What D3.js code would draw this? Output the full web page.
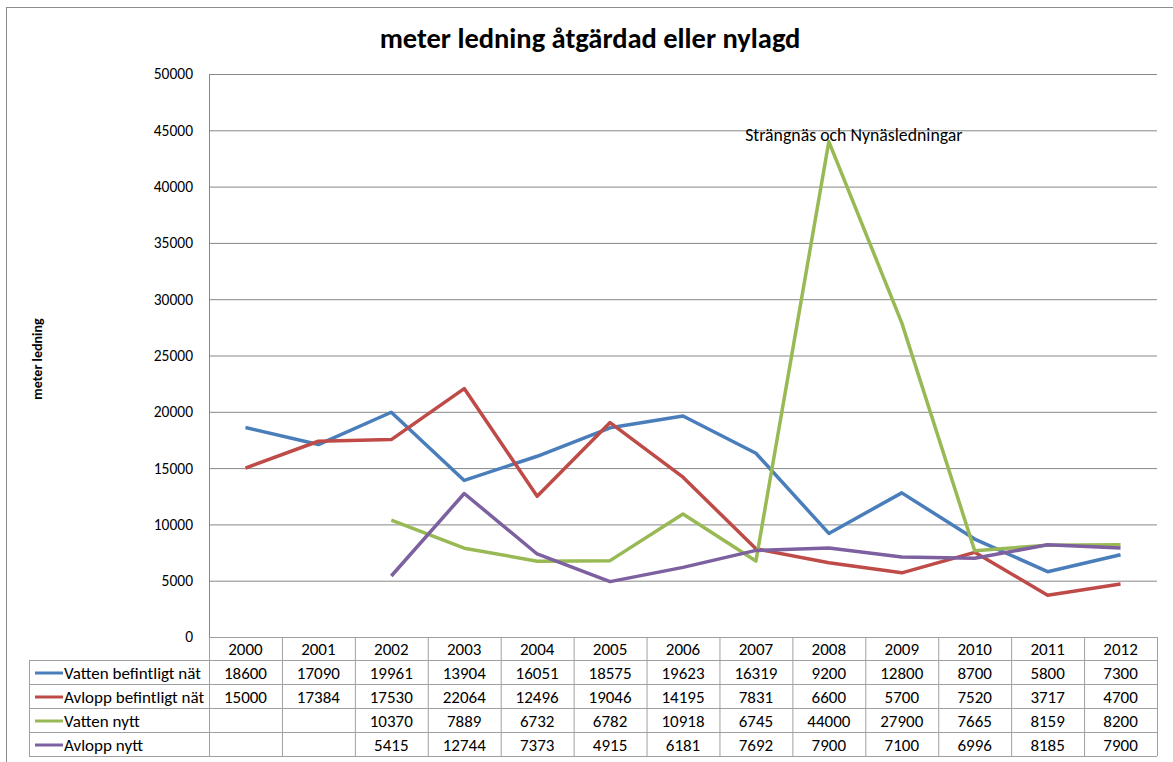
<!DOCTYPE html>
<html lang="sv">
<head>
  <meta charset="utf-8">
  <title>meter ledning</title>
  <script src="https://d3js.org/d3.v7.min.js"></script>
  <style>
    body { margin: 0; background: #fff; }
    text { font-family: Carlito, "Open Sans", sans-serif; fill: #000; }
  </style>
</head>
<body>
<script>
// data from the table under the chart
var years = ["2000","2001","2002","2003","2004","2005","2006","2007","2008","2009","2010","2011","2012"];
var vattenBef = [18600,17090,19961,13904,16051,18575,19623,16319,9200,12800,8700,5800,7300];
var avloppBef = [15000,17384,17530,22064,12496,19046,14195,7831,6600,5700,7520,3717,4700];
var vattenNytt = [null,null,10370,7889,6732,6782,10918,6745,44000,27900,7665,8159,8200];
var avloppNytt = [null,null,5415,12744,7373,4915,6181,7692,7900,7100,6996,8185,7900];
var seriesNames = ["Vatten befintligt nät","Avlopp befintligt nät","Vatten nytt","Avlopp nytt"];
var seriesColors = ["#4a7ebb","#be4b48","#98b954","#7d60a0"];
var yTicks = [0,5000,10000,15000,20000,25000,30000,35000,40000,45000,50000];

var series = [vattenBef, avloppBef, vattenNytt, avloppNytt];

var W = 1173, H = 762;
var plotLeft = 209, plotRight = 1157, plotTop = 74, plotBottom = 637;
var rowH = 24;
var tableFont = "17px";

var svg = d3.select("body").append("svg")
  .attr("width", W).attr("height", H);

// outer chart frame
svg.append("rect")
  .attr("x", 6.5).attr("y", 7.5)
  .attr("width", W + 20).attr("height", H + 20)
  .attr("fill", "none").attr("stroke", "#8c8c8c");

svg.append("text")
  .attr("x", 590).attr("y", 48)
  .attr("text-anchor", "middle")
  .style("font-size", "28.5px").style("font-weight", "bold")
  .text("meter ledning åtgärdad eller nylagd");

var x = d3.scaleBand().domain(years).range([plotLeft, plotRight]);
var y = d3.scaleLinear().domain([0, 50000]).range([plotBottom, plotTop]);

// gridlines
svg.append("g").selectAll("line")
  .data(yTicks.filter(function(d) { return d > 0; }))
  .enter().append("line")
  .attr("x1", plotLeft).attr("x2", plotRight)
  .attr("y1", function(d) { return y(d) + 0.5; })
  .attr("y2", function(d) { return y(d) + 0.5; })
  .attr("stroke", "#878787");

var yAxis = svg.append("g")
  .attr("transform", "translate(" + plotLeft + ",0)")
  .call(d3.axisLeft(y).tickValues(yTicks).tickSize(0).tickPadding(16).tickFormat(d3.format("d")));
yAxis.select(".domain").remove();
yAxis.selectAll("text").style("font-size", "15.5px").style("font-family", "Carlito, 'Open Sans', sans-serif");

svg.append("line")
  .attr("x1", plotLeft + 0.5).attr("x2", plotLeft + 0.5)
  .attr("y1", plotTop).attr("y2", plotBottom)
  .attr("stroke", "#878787");

svg.append("text")
  .attr("transform", "translate(42,359) rotate(-90)")
  .attr("text-anchor", "middle")
  .style("font-size", "14px").style("font-weight", "bold")
  .text("meter ledning");

// lines
var line = d3.line()
  .defined(function(d) { return d != null; })
  .x(function(d, i) { return x(years[i]) + x.bandwidth() / 2; })
  .y(function(d) { return y(d); });

svg.append("g").selectAll("path")
  .data(series)
  .enter().append("path")
  .attr("d", line)
  .attr("fill", "none")
  .attr("stroke", function(d, i) { return seriesColors[i]; })
  .attr("stroke-width", 3.5)
  .attr("stroke-linejoin", "round");

// data label at the 2008 peak
svg.append("text")
  .attr("x", x("2008") + x.bandwidth() / 2).attr("y", y(44000) - 1)
  .attr("dx", 25)
  .attr("text-anchor", "middle")
  .style("font-size", "17.8px")
  .text("Strängnäs och Nynäsledningar");

// data table
var tableLeft = 29;
var tbl = svg.append("g");
var tableBottom = plotBottom + rowH * 5 - 1;

// horizontal lines
for (var r = 0; r <= 5; r++) {
  var ly = r === 0 ? plotBottom + 0.5 : plotBottom + r * rowH - 0.5;
  tbl.append("line")
    .attr("x1", r === 0 ? plotLeft : tableLeft).attr("x2", plotRight)
    .attr("y1", ly).attr("y2", ly)
    .attr("stroke", "#a0a0a0");
}
// vertical lines
tbl.append("line")
  .attr("x1", tableLeft + 0.5).attr("x2", tableLeft + 0.5)
  .attr("y1", plotBottom + rowH).attr("y2", tableBottom)
  .attr("stroke", "#a0a0a0");
tbl.selectAll("line.col")
  .data(years.concat(["end"]))
  .enter().append("line")
  .attr("class", "col")
  .attr("x1", function(d) { return (d === "end" ? plotRight : x(d)) + 0.5; })
  .attr("x2", function(d) { return (d === "end" ? plotRight : x(d)) + 0.5; })
  .attr("y1", plotBottom).attr("y2", tableBottom)
  .attr("stroke", "#a0a0a0");

tbl.selectAll("text.year")
  .data(years)
  .enter().append("text")
  .attr("class", "year")
  .attr("x", function(d) { return x(d) + x.bandwidth() / 2; })
  .attr("y", plotBottom + rowH / 2 + 6)
  .attr("text-anchor", "middle")
  .style("font-size", tableFont)
  .text(function(d) { return d; });

series.forEach(function(s, k) {
  var cy = plotBottom + rowH * (k + 1) + rowH / 2;
  tbl.append("line")
    .attr("x1", 35).attr("x2", 63)
    .attr("y1", cy).attr("y2", cy)
    .attr("stroke", seriesColors[k]).attr("stroke-width", 3);
  tbl.append("text")
    .attr("x", 64).attr("y", cy + 6)
    .style("font-size", tableFont)
    .text(seriesNames[k]);
  tbl.selectAll("text.v" + k)
    .data(s)
    .enter().append("text")
    .attr("x", function(d, i) { return x(years[i]) + x.bandwidth() / 2; })
    .attr("y", cy + 6)
    .attr("text-anchor", "middle")
    .style("font-size", tableFont)
    .text(function(d) { return d == null ? "" : d; });
});
</script>
</body>
</html>
